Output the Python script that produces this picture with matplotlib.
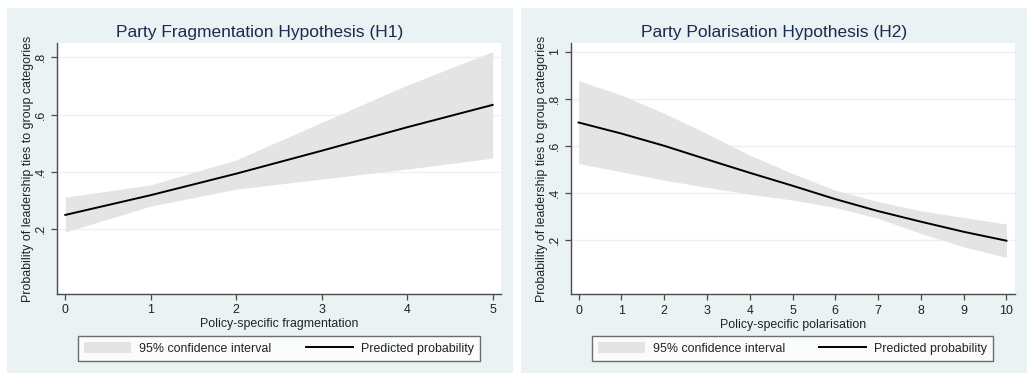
import matplotlib
matplotlib.use("Agg")
import matplotlib.pyplot as plt
from matplotlib.patches import Rectangle, Patch
from matplotlib.lines import Line2D

plt.rcParams['font.family'] = ['Liberation Sans', 'DejaVu Sans']

# ---- data: H1 fragmentation ----
frag_x = [0, 1, 2, 3, 4, 5]
frag_pred = [0.250, 0.319, 0.394, 0.474, 0.556, 0.634]
frag_hi = [0.312, 0.355, 0.442, 0.573, 0.703, 0.820]
frag_lo = [0.190, 0.281, 0.340, 0.375, 0.410, 0.448]

# ---- data: H2 polarisation ----
pol_x = [0, 1, 2, 3, 4, 5, 6, 7, 8, 9, 10]
pol_pred = [0.699, 0.652, 0.600, 0.542, 0.485, 0.430, 0.373, 0.322, 0.277, 0.234, 0.196]
pol_hi = [0.877, 0.816, 0.738, 0.652, 0.560, 0.482, 0.411, 0.362, 0.323, 0.295, 0.267]
pol_lo = [0.525, 0.489, 0.454, 0.423, 0.394, 0.369, 0.338, 0.291, 0.227, 0.170, 0.125]

titles = ["Party Fragmentation Hypothesis (H1)", "Party Polarisation Hypothesis (H2)"]
xlabels = ["Policy-specific fragmentation", "Policy-specific polarisation"]
ylabel = "Probability of leadership ties to group categories"
frag_yticks = [0.2, 0.4, 0.6, 0.8]
frag_yticklabels = [".2", ".4", ".6", ".8"]
pol_yticks = [0.2, 0.4, 0.6, 0.8, 1.0]
pol_yticklabels = [".2", ".4", ".6", ".8", "1"]
legend_labels = ["95% confidence interval", "Predicted probability"]

W, H = 1028, 374
fig = plt.figure(figsize=(W / 100, H / 100), dpi=100)
fig.patch.set_facecolor('white')

BG = '#eaf2f3'
CI = '#e4e4e4'
AXC = '#4a4a4a'
TXT = '#222222'
TITLEC = '#1c2a4f'
FS = 8.9

# panel backgrounds
for (x0, x1) in [(7, 513), (521, 1027)]:
    fig.patches.append(Rectangle((x0 / W, 1 - 373 / H), (x1 - x0) / W, (373 - 8) / H,
                                 transform=fig.transFigure, facecolor=BG, edgecolor='none', zorder=-10))

panels = [
    dict(x=frag_x, pred=frag_pred, hi=frag_hi, lo=frag_lo, left=57.3, right=501,
         top=43, bottom=294, xlim=(-0.094, 5.098), ylim=(-0.026, 0.85),
         yticks=frag_yticks, yticklabels=frag_yticklabels, xticks=frag_x,
         center=260, leg=(79, 479), ylab_x=29),
    dict(x=pol_x, pred=pol_pred, hi=pol_hi, lo=pol_lo, left=571.3, right=1015,
         top=43.3, bottom=294.3, xlim=(-0.17, 10.2), ylim=(-0.032, 1.036),
         yticks=pol_yticks, yticklabels=pol_yticklabels, xticks=pol_x,
         center=774, leg=(593, 992), ylab_x=543),
]

for i, p in enumerate(panels):
    aw = p['right'] - p['left']
    ax = fig.add_axes([p['left'] / W, 1 - p['bottom'] / H, aw / W,
                       (p['bottom'] - p['top']) / H])
    ax.set_facecolor('white')
    ax.fill_between(p['x'], p['lo'], p['hi'], color=CI, linewidth=0, zorder=2)
    ax.plot(p['x'], p['pred'], color='black', linewidth=1.4, zorder=3)
    ax.set_xlim(*p['xlim'])
    ax.set_ylim(*p['ylim'])
    ax.set_xticks(p['xticks'])
    ax.set_xticklabels([str(v) for v in p['xticks']])
    ax.set_yticks(p['yticks'])
    ax.set_yticklabels(p['yticklabels'], rotation=90, va='center')
    for yv in p['yticks']:
        ax.axhline(yv, color=BG, linewidth=1.0, zorder=1)
    for s in ['top', 'right']:
        ax.spines[s].set_visible(False)
    for s in ['left', 'bottom']:
        ax.spines[s].set_color(AXC)
        ax.spines[s].set_linewidth(1.0)
    ax.tick_params(axis='both', direction='out', length=4.5, width=0.9, color=AXC,
                   labelsize=FS, labelcolor=TXT)
    ax.tick_params(axis='x', pad=3)
    ax.tick_params(axis='y', pad=3)
    ax.set_xlabel(xlabels[i], fontsize=FS, color=TXT, labelpad=1.5)
    ax.set_ylabel(ylabel, fontsize=FS, color=TXT)
    ax.yaxis.set_label_coords((p['ylab_x'] + 5 - p['left']) / aw, 0.5)
    fig.text(p['center'] / W, 1 - 32 / H, titles[i], ha='center', va='center',
             fontsize=12.5, color=TITLEC)
    # legend
    l0, l1 = p['leg']
    handles = [Patch(facecolor=CI, edgecolor='none'),
               Line2D([0], [0], color='black', linewidth=1.4)]
    leg = ax.legend(handles, legend_labels, loc='center',
                    bbox_to_anchor=(((l0 + l1) / 2) / W, 1 - 348.5 / H),
                    bbox_transform=fig.transFigure, ncol=2, frameon=True,
                    fancybox=False, edgecolor=AXC, fontsize=FS,
                    handlelength=3.8, handleheight=1.05, columnspacing=2.8,
                    handletextpad=0.65, borderpad=0.45, borderaxespad=0)
    leg.get_frame().set_linewidth(1.0)
    for t in leg.get_texts():
        t.set_color(TXT)

fig.savefig('out.png', dpi=100, facecolor='white')
